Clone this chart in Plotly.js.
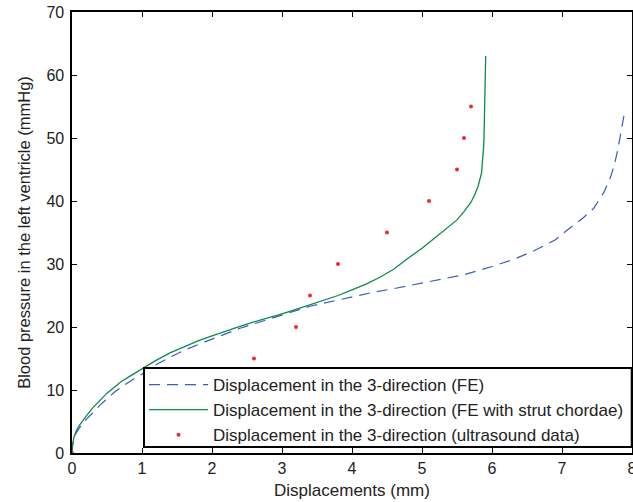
<!DOCTYPE html>
<html>
<head>
<meta charset="utf-8">
<script src="https://cdn.plot.ly/plotly-3.0.1.min.js"></script>
<style>html,body{margin:0;padding:0;background:#fff;}#chart{width:633px;height:502px;}</style>
</head>
<body>
<div id="chart"></div>
<script>
// FE (no strut chordae) - dashed blue
const feX = [0, 0.01, 0.03, 0.06, 0.1, 0.15, 0.2, 0.3, 0.4, 0.5, 0.6, 0.7, 0.8, 0.9, 1.0, 1.2, 1.4, 1.6, 1.8, 2.0, 2.2, 2.4, 2.6, 2.8, 3.0, 3.2, 3.4, 3.6, 3.8, 4.0, 4.3, 4.6, 5.0, 5.3, 5.6, 6.0, 6.3, 6.6, 6.9, 7.1, 7.3, 7.45, 7.6, 7.7, 7.75, 7.8, 7.85, 7.9];
const feY = [0, 1.3, 2.3, 3.2, 3.9, 4.7, 5.3, 6.4, 7.6, 8.6, 9.6, 10.4, 11.2, 11.9, 12.5, 14.0, 15.2, 16.3, 17.2, 18.1, 18.9, 19.8, 20.5, 21.2, 21.9, 22.6, 23.3, 23.8, 24.3, 24.8, 25.5, 26.1, 27.0, 27.6, 28.3, 29.6, 30.7, 32.1, 33.8, 35.6, 37.3, 38.8, 41.4, 44.0, 45.8, 48.3, 51.3, 54.5];
// FE with strut chordae - solid green
const strutX = [0, 0.01, 0.03, 0.06, 0.1, 0.15, 0.2, 0.3, 0.4, 0.5, 0.6, 0.7, 0.8, 0.9, 1.0, 1.2, 1.4, 1.6, 1.8, 2.0, 2.2, 2.4, 2.6, 2.8, 3.0, 3.2, 3.4, 3.6, 3.8, 4.0, 4.2, 4.4, 4.6, 4.8, 5.0, 5.2, 5.4, 5.5, 5.6, 5.7, 5.75, 5.8, 5.85, 5.87, 5.88, 5.886, 5.895, 5.9, 5.91];
const strutY = [0, 1.5, 2.6, 3.5, 4.3, 5.1, 5.8, 7.2, 8.4, 9.5, 10.4, 11.3, 12.0, 12.7, 13.4, 14.7, 15.9, 16.9, 17.8, 18.6, 19.4, 20.1, 20.8, 21.4, 22.1, 22.8, 23.5, 24.2, 25.0, 25.9, 26.8, 27.9, 29.2, 30.9, 32.5, 34.3, 36.1, 37.0, 38.3, 39.8, 40.9, 42.3, 44.4, 46.6, 48.5, 50.2, 54.0, 57.0, 63.0];
// Ultrasound data - red dots
const usX = [0, 2.6, 3.2, 3.4, 3.8, 4.5, 5.1, 5.5, 5.6, 5.7];
const usY = [0, 15, 20, 25, 30, 35, 40, 45, 50, 55];

const seriesNames = [
  "Displacement in the 3-direction (FE)",
  "Displacement in the 3-direction (FE with strut chordae)",
  "Displacement in the 3-direction (ultrasound data)"
];
const xTicks = [0, 1, 2, 3, 4, 5, 6, 7, 8];
const yTicks = [0, 10, 20, 30, 40, 50, 60, 70];

const FONT = "Liberation Sans, Arial, Helvetica, sans-serif";
const TXT = "#222";

const traces = [
  {x: feX, y: feY, name: seriesNames[0], type: "scatter", mode: "lines",
   line: {color: "#3a5bbf", width: 1.2, dash: "11px,7px"}},
  {x: strutX, y: strutY, name: seriesNames[1], type: "scatter", mode: "lines",
   line: {color: "#0e8a4c", width: 1.3}},
  {x: usX, y: usY, name: seriesNames[2], type: "scatter", mode: "markers",
   marker: {color: "#ee2a2a", size: 4}, cliponaxis: false}
];

const axisCommon = {
  showgrid: false, zeroline: false, showline: true, linecolor: "#000", linewidth: 1.6,
  mirror: "ticks", ticks: "inside", ticklen: 5, tickcolor: "#000", tickwidth: 1,
  tickfont: {family: FONT, size: 16, color: TXT}, ticklabeloverflow: "allow"
};

const layout = {
  width: 633, height: 502,
  margin: {l: 72, r: 1, t: 12, b: 49},
  paper_bgcolor: "#fff", plot_bgcolor: "#fff",
  font: {family: FONT, size: 16, color: TXT},
  xaxis: Object.assign({}, axisCommon, {
    range: [0, 8], tickvals: xTicks, ticktext: xTicks.map(String),
    title: {text: "Displacements (mm)", font: {family: FONT, size: 17, color: TXT}, standoff: 8}
  }),
  yaxis: Object.assign({}, axisCommon, {
    range: [0, 70], tickvals: yTicks, ticktext: yTicks.map(String), ticklabelstandoff: 3,
    title: {text: "Blood pressure in the left ventricle (mmHg)", font: {family: FONT, size: 16.5, color: TXT}, standoff: 11}
  }),
  shapes: [{
    type: "rect", xref: "paper", yref: "paper", layer: "above",
    x0: 0.1286, x1: 0.9995, y0: 0.0136, y1: 0.1927,
    fillcolor: "#fff", line: {color: "#000", width: 2}
  }],
  showlegend: true,
  legend: {
    x: 0.1286, y: 0.0, xanchor: "left", yanchor: "bottom",
    bgcolor: "rgba(0,0,0,0)", borderwidth: 0,
    font: {family: FONT, size: 17, color: TXT},
    itemwidth: 59, tracegroupgap: 0
  }
};

Plotly.newPlot("chart", traces, layout, {staticPlot: true, displayModeBar: false});
</script>
</body>
</html>
